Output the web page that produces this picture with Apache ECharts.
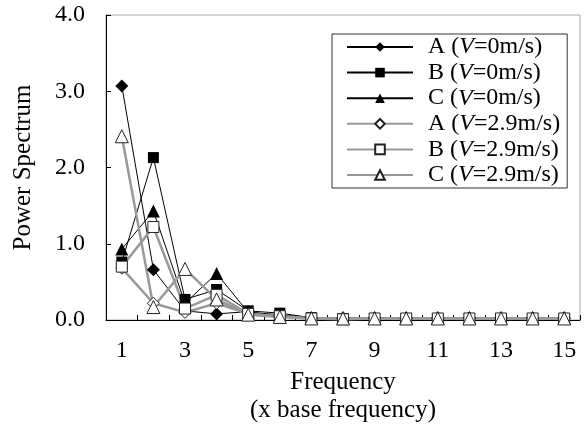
<!DOCTYPE html>
<html>
<head>
<meta charset="utf-8">
<script src="https://cdn.jsdelivr.net/npm/echarts@6/dist/echarts.min.js"></script>
<style>
  html, body { margin: 0; padding: 0; background: #fff; }
  #chart { width: 585px; height: 426px; }
</style>
</head>
<body>
<div id="chart"></div>
<script>
// harmonic number (x base frequency)
const categories = ['1', '2', '3', '4', '5', '6', '7', '8', '9', '10', '11', '12', '13', '14', '15']

// V = 0 m/s
const a0 = [3.07, 0.66, 0.12, 0.08, 0.11, 0.05, 0.03, 0.03, 0.03, 0.03, 0.03, 0.03, 0.03, 0.03, 0.03]
const b0 = [0.76, 2.13, 0.27, 0.40, 0.12, 0.09, 0.03, 0.02, 0.02, 0.02, 0.02, 0.02, 0.02, 0.02, 0.02]
const c0 = [0.93, 1.43, 0.22, 0.61, 0.10, 0.07, 0.03, 0.03, 0.03, 0.03, 0.03, 0.03, 0.03, 0.03, 0.03]
// V = 2.9 m/s
const a29 = [0.68, 0.22, 0.10, 0.22, 0.08, 0.05, 0.02, 0.02, 0.02, 0.02, 0.02, 0.02, 0.02, 0.02, 0.02]
const b29 = [0.70, 1.22, 0.15, 0.33, 0.08, 0.05, 0.02, 0.01, 0.02, 0.02, 0.02, 0.02, 0.02, 0.02, 0.02]
const c29 = [2.41, 0.17, 0.67, 0.27, 0.07, 0.04, 0.02, 0.02, 0.02, 0.02, 0.02, 0.02, 0.02, 0.02, 0.02]

const yTicks = ['0.0', '1.0', '2.0', '3.0', '4.0']

const font = 'Liberation Serif, Times New Roman, serif'

function blackSeries(name, data, symbol, size) {
  return {
    name: name,
    type: 'line',
    data: data,
    symbol: symbol,
    symbolSize: size,
    lineStyle: { color: '#000', width: 1 },
    itemStyle: { color: '#000', borderColor: '#000', borderWidth: 0 },
    emphasis: { disabled: true }
  }
}

function greySeries(name, data, symbol, size) {
  return {
    name: name,
    type: 'line',
    data: data,
    symbol: symbol,
    symbolSize: size,
    lineStyle: { color: '#999', width: 2.5 },
    itemStyle: { color: '#fff', borderColor: '#222', borderWidth: 1 },
    emphasis: { disabled: true }
  }
}

const chart = echarts.init(document.getElementById('chart'))

chart.setOption({
  animation: false,
  backgroundColor: '#fff',
  textStyle: { fontFamily: font },
  grid: {
    left: 106,
    right: 5,
    top: 15,
    bottom: 106,
    outerBoundsMode: 'none',
    containLabel: false,
    show: true,
    borderColor: '#aaa',
    borderWidth: 1
  },
  legend: {
    orient: 'vertical',
    left: 332,
    top: 34,
    padding: [1, 7, 1, 14],
    itemGap: 1.6,
    itemWidth: 66,
    itemHeight: 12,
    borderColor: '#333',
    borderWidth: 1,
    backgroundColor: '#fff',
    textStyle: {
      fontFamily: font,
      fontSize: 24,
      color: '#000',
      rich: {
        p: { width: 10 },
        n: { fontFamily: font, fontSize: 24, lineHeight: 24, color: '#000' },
        i: { fontFamily: font, fontSize: 24, lineHeight: 24, color: '#000', fontStyle: 'italic' }
      }
    },
    formatter: function (name) {
      const m = name.match(/^(\w) \(V(.*)\)$/)
      return '{p|}{n|' + m[1] + ' (}{i|V}{n|' + m[2] + ')}'
    }
  },
  xAxis: {
    type: 'category',
    data: categories,
    boundaryGap: true,
    name: 'Frequency\n(x base frequency)',
    nameLocation: 'middle',
    nameGap: 40,
    nameTextStyle: { fontFamily: font, fontSize: 25, color: '#000', lineHeight: 28, padding: [1, 0, 0, 0] },
    axisLine: { lineStyle: { color: '#000', width: 1 } },
    axisTick: { show: true, inside: true, length: 5, interval: 0, lineStyle: { color: '#000' } },
    axisLabel: { interval: 1, fontFamily: font, fontSize: 24, color: '#000', margin: 19 },
    splitLine: { show: false }
  },
  yAxis: {
    type: 'value',
    min: 0,
    max: 4,
    interval: 1,
    name: 'Power Spectrum',
    nameLocation: 'middle',
    nameGap: 70,
    nameTextStyle: { fontFamily: font, fontSize: 25, color: '#000' },
    axisLine: { show: true, lineStyle: { color: '#000', width: 1 } },
    axisTick: { show: true, inside: true, length: 5, lineStyle: { color: '#000' } },
    axisLabel: {
      fontFamily: font,
      fontSize: 24,
      color: '#000',
      margin: 21,
      formatter: function (v) { return yTicks[Math.round(v)] }
    },
    splitLine: { show: false }
  },
  series: [
    blackSeries('A (V=0m/s)', a0, 'diamond', 13),
    blackSeries('B (V=0m/s)', b0, 'rect', 11),
    blackSeries('C (V=0m/s)', c0, 'triangle', 13),
    greySeries('A (V=2.9m/s)', a29, 'diamond', 12),
    greySeries('B (V=2.9m/s)', b29, 'rect', 11),
    greySeries('C (V=2.9m/s)', c29, 'triangle', 13)
  ]
})
</script>
</body>
</html>
